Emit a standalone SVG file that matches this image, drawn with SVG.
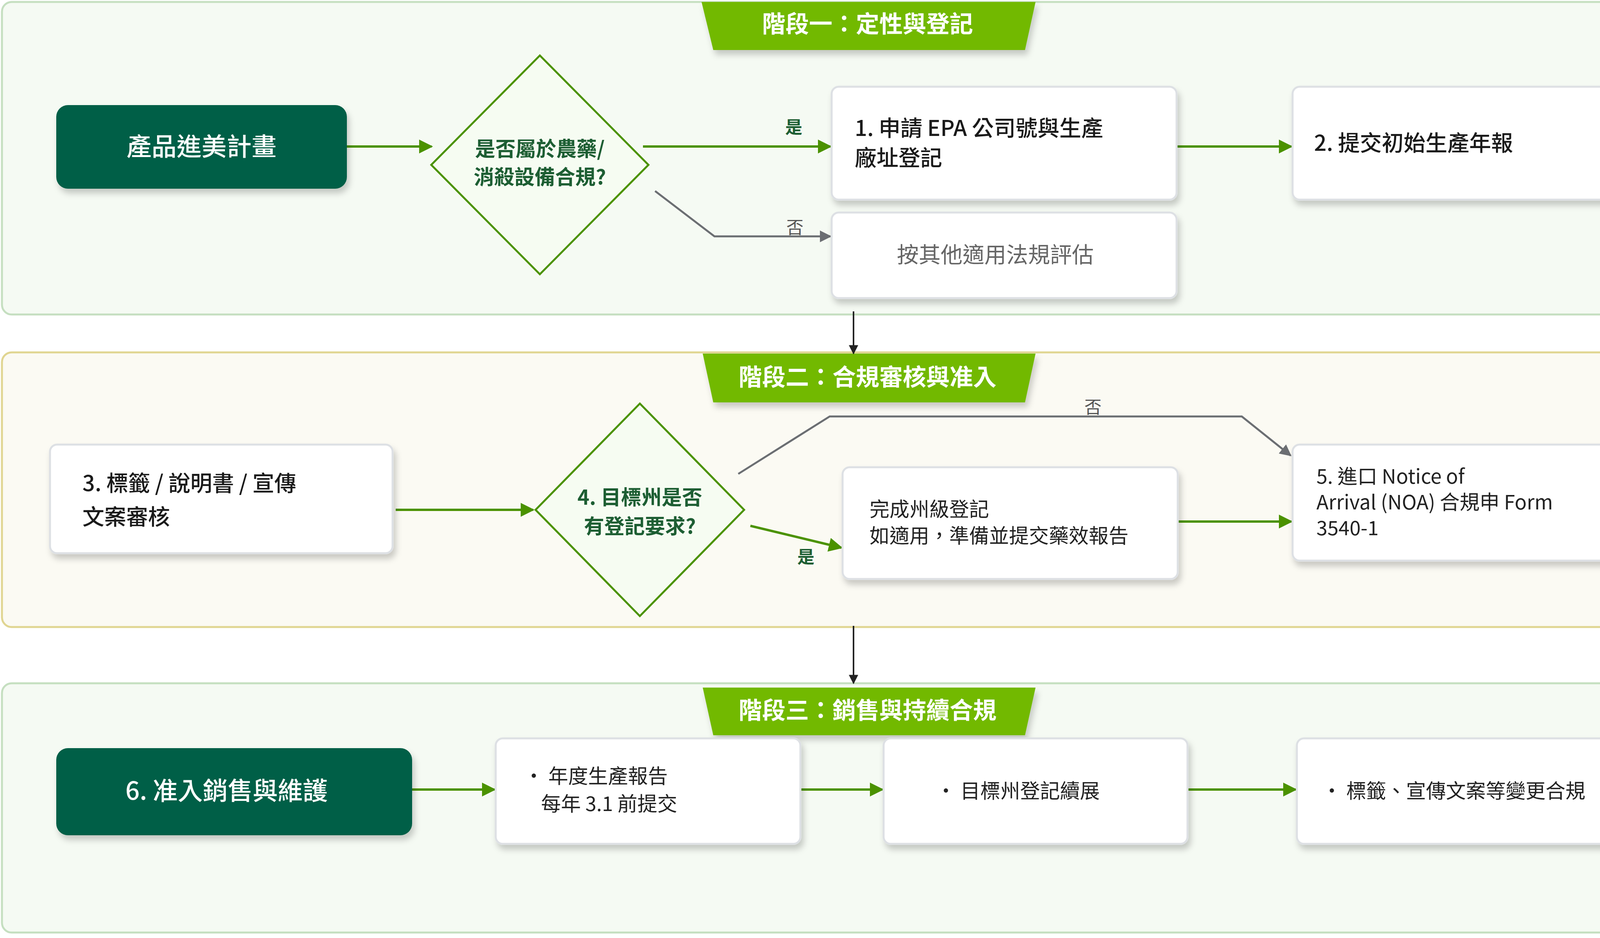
<svg xmlns="http://www.w3.org/2000/svg" width="4344" height="2401" viewBox="0 0 4344 2401">
<defs>
<filter id="sh" x="-10%" y="-10%" width="130%" height="140%"><feDropShadow dx="6" dy="12" stdDeviation="8" flood-color="#000" flood-opacity="0.2"/></filter>
<marker id="ag" viewBox="0 0 10 10" refX="9" refY="5" markerWidth="6" markerHeight="6" orient="auto"><path d="M0,0 L10,5 L0,10 z" fill="#4b9200"/></marker>
<marker id="ay" viewBox="0 0 10 10" refX="9" refY="5" markerWidth="6" markerHeight="6" orient="auto"><path d="M0,0 L10,5 L0,10 z" fill="#6b6e72"/></marker>
<marker id="ak" viewBox="0 0 10 10" refX="9" refY="5" markerWidth="6" markerHeight="6" orient="auto"><path d="M0,0 L10,5 L0,10 z" fill="#222"/></marker>
</defs>
<style>
text{font-family:"Noto Sans CJK TC","Noto Sans",sans-serif}
.pg{fill:#f5faf3;stroke:#c5dfc0;stroke-width:5}
.py{fill:#fbfaf3;stroke:#e0d591;stroke-width:5}
.ban{fill:#72b900;filter:url(#sh)}
.bt{fill:#fff;font-size:60px;font-weight:700;text-anchor:middle}
.dk{fill:#005f46;filter:url(#sh)}
.dt{fill:#fff;font-size:64px;font-weight:500;text-anchor:middle}
.box{fill:#fff;stroke:#dde0e4;stroke-width:5;filter:url(#sh)}
.t{fill:#1a1a1a;font-size:56px;font-weight:500}
.s{fill:#222;font-size:51px}
.dia{fill:#f6fcf2;stroke:#4b9200;stroke-width:5}
.qt{fill:#1d5e33;font-size:52px;font-weight:700;text-anchor:middle}
.g{stroke:#4b9200;stroke-width:6;fill:none;marker-end:url(#ag)}
.y{stroke:#6b6e72;stroke-width:5;fill:none;marker-end:url(#ay)}
.k{stroke:#222;stroke-width:4;fill:none;marker-end:url(#ak)}
.lg{fill:#1d5e33;font-size:44px;font-weight:700;text-anchor:middle}
.ly{fill:#555;font-size:44px;text-anchor:middle}
</style>
<g id="panels">
<rect class="pg" x="5" y="5" width="4326" height="800" rx="25"/>
<rect class="py" x="5" y="902" width="4326" height="703" rx="25"/>
<rect class="pg" x="5" y="1749" width="4326" height="638" rx="25"/>
</g>
<g id="banner1"><polygon class="ban" points="1796,5 2651,5 2624,128 1826,128"/><text class="bt" x="2221" y="83">階段一：定性與登記</text></g>
<g id="banner2"><polygon class="ban" points="1799,905 2651,905 2624,1030 1826,1030"/><text class="bt" x="2221" y="987">階段二：合規審核與准入</text></g>
<g id="banner3"><polygon class="ban" points="1799,1760 2651,1760 2624,1882 1826,1882"/><text class="bt" x="2221" y="1840">階段三：銷售與持續合規</text></g>
<g id="connectors">
<line class="g" x1="888" y1="375" x2="1105" y2="375"/>
<line class="g" x1="1646" y1="375" x2="2126" y2="375"/>
<polyline class="y" points="1677,489 1829,605 2126,605"/>
<line class="g" x1="3012" y1="375" x2="3306" y2="375"/>
<line class="k" x1="2185" y1="797" x2="2185" y2="905"/>
<line class="g" x1="1013" y1="1305" x2="1365" y2="1305"/>
<line class="g" x1="1921" y1="1346" x2="2154" y2="1402"/>
<polyline class="y" points="1890,1213 2124,1066 3179,1066 3304,1166"/>
<line class="g" x1="3015" y1="1335" x2="3306" y2="1335"/>
<line class="k" x1="2185" y1="1602" x2="2185" y2="1749"/>
<line class="g" x1="1055" y1="2021" x2="1266" y2="2021"/>
<line class="g" x1="2049" y1="2021" x2="2259" y2="2021"/>
<line class="g" x1="3040" y1="2021" x2="3317" y2="2021"/>
<text class="lg" x="2032" y="342">是</text>
<text class="ly" x="2035" y="598">否</text>
<text class="lg" x="2063" y="1442">是</text>
<text class="ly" x="2798" y="1058">否</text>
</g>
<g id="start"><rect class="dk" x="144" y="269" width="744" height="214" rx="30"/><text class="dt" x="516" y="398">產品進美計畫</text></g>
<g id="q1"><polygon class="dia" points="1382,142 1660,422 1382,702 1104,422"/><text class="qt" x="1382" y="400">是否屬於農藥/</text><text class="qt" x="1382" y="472">消殺設備合規?</text></g>
<g id="n1"><rect class="box" x="2129" y="222" width="883" height="289" rx="18"/><text class="t" x="2188" y="348">1. 申請 EPA 公司號與生產</text><text class="t" x="2188" y="424">廠址登記</text></g>
<g id="nother"><rect class="box" x="2129" y="544" width="883" height="219" rx="18"/><text x="2548" y="672" text-anchor="middle" fill="#666" font-size="56">按其他適用法規評估</text></g>
<g id="n2"><rect class="box" x="3309" y="222" width="863" height="289" rx="18"/><text class="t" x="3364" y="386">2. 提交初始生產年報</text></g>
<g id="n3"><rect class="box" x="128" y="1138" width="877" height="278" rx="18"/><text class="t" x="211" y="1257" font-size="62">3. 標籤 / 說明書 / 宣傳</text><text class="t" x="211" y="1343" font-size="62">文案審核</text></g>
<g id="q2"><polygon class="dia" points="1638,1033 1905,1305 1638,1577 1371,1305"/><text class="qt" x="1638" y="1292">4. 目標州是否</text><text class="qt" x="1638" y="1366">有登記要求?</text></g>
<g id="nstate"><rect class="box" x="2157" y="1196" width="858" height="286" rx="18"/><text class="s" x="2226" y="1322">完成州級登記</text><text class="s" x="2226" y="1390">如適用，準備並提交藥效報告</text></g>
<g id="n5"><rect class="box" x="3309" y="1138" width="877" height="297" rx="18"/><text class="s" x="3370" y="1238">5. 進口 Notice of</text><text class="s" x="3370" y="1304">Arrival (NOA) 合規申 Form</text><text class="s" x="3370" y="1370">3540-1</text></g>
<g id="n6"><rect class="dk" x="144" y="1915" width="911" height="223" rx="30"/><text class="dt" x="580" y="2047">6. 准入銷售與維護</text></g>
<g id="na"><rect class="box" x="1269" y="1890" width="780" height="270" rx="18"/><text class="s" x="1341" y="2005">•  年度生產報告</text><text class="s" x="1385" y="2076">每年 3.1 前提交</text></g>
<g id="nb"><rect class="box" x="2262" y="1890" width="778" height="270" rx="18"/><text class="s" x="2396" y="2043">•  目標州登記續展</text></g>
<g id="nc"><rect class="box" x="3320" y="1890" width="872" height="270" rx="18"/><text class="s" x="3384" y="2043">•  標籤、宣傳文案等變更合規</text></g>
</svg>
